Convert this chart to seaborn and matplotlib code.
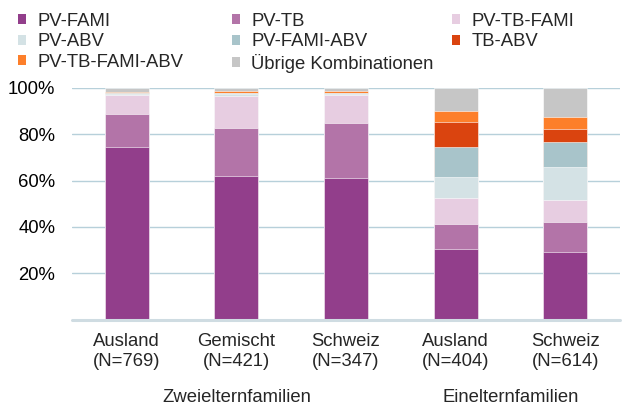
import pandas as pd
import matplotlib.pyplot as plt
import matplotlib.transforms as mtransforms
from matplotlib.patches import Patch
import seaborn as sns

# ---------- Daten (Anteile in %) ----------
kategorien = ["Ausland\n(N=769)", "Gemischt\n(N=421)", "Schweiz\n(N=347)",
              "Ausland\n(N=404)", "Schweiz\n(N=614)"]
gruppen = ["Zweielternfamilien", "Einelternfamilien"]
gruppen_mitte = [1.0, 3.5]

pv_fami        = [74.5, 62.0, 61.3, 30.4, 29.3]
pv_tb          = [14.1, 20.8, 23.4, 11.0, 12.7]
pv_tb_fami     = [8.5, 13.6, 12.1, 11.1, 9.8]
pv_abv         = [0.5, 1.0, 0.6, 9.2, 14.1]
pv_fami_abv    = [0.3, 0.4, 0.4, 13.0, 10.7]
tb_abv         = [0.1, 0.2, 0.2, 10.8, 5.9]
pv_tb_fami_abv = [0.3, 0.9, 0.9, 4.4, 4.8]
uebrige        = [1.7, 1.1, 1.1, 10.1, 12.7]

serien = ["PV-FAMI", "PV-TB", "PV-TB-FAMI", "PV-ABV", "PV-FAMI-ABV",
          "TB-ABV", "PV-TB-FAMI-ABV", "Übrige Kombinationen"]
werte = [pv_fami, pv_tb, pv_tb_fami, pv_abv, pv_fami_abv,
         tb_abv, pv_tb_fami_abv, uebrige]
farben = ["#923e8b", "#b374a8", "#e7cde1", "#d4e2e5", "#a8c4ca",
          "#da440f", "#fd7f2a", "#c6c6c6"]

df = pd.DataFrame({s: w for s, w in zip(serien, werte)}, index=kategorien) / 100
kumuliert = df.cumsum(axis=1)

# ---------- Grafik ----------
sns.set_theme(style="white")
plt.rcParams['font.family'] = ['Liberation Sans', 'DejaVu Sans']
fs = 13.3

fig = plt.figure(figsize=(6.25, 4.05), dpi=100)
ax = fig.add_axes([72 / 625, 1 - 319.5 / 405, 548 / 625, 231.5 / 405])

# gestapelte Balken: kumulierte Summen von oben nach unten zeichnen
for s, f in reversed(list(zip(serien, farben))):
    sns.barplot(x=kategorien, y=kumuliert[s].values, color=f, width=0.4,
                saturation=1, edgecolor="white", linewidth=0.4, ax=ax, zorder=3)

ax.set_ylim(0, 1)
ax.set_xlim(-0.5, len(kategorien) - 0.5)
ax.set_yticks([0.2, 0.4, 0.6, 0.8, 1.0])
ax.set_yticklabels(["20%", "40%", "60%", "80%", "100%"], fontsize=fs, color="#000000")
ax.tick_params(axis="y", length=0, pad=12)
ax.tick_params(axis="x", length=0, pad=10, labelsize=fs)
for y in [0.2, 0.4, 0.6, 0.8, 1.0]:
    ax.axhline(y, color="#b7d0da", lw=1, zorder=1)
ax.axhline(0, color="#cfdce2", lw=2.2, zorder=4, clip_on=False)
for sp in ax.spines.values():
    sp.set_visible(False)
ax.set_xlabel("")
ax.set_ylabel("")

# Gruppenbeschriftung
trans = mtransforms.blended_transform_factory(ax.transData, fig.transFigure)
for g, xm in zip(gruppen, gruppen_mitte):
    ax.text(xm, 1 - 398 / 405, g, transform=trans, ha="center", va="center", fontsize=fs)

# Legende in drei Spalten
spalten_x = [5 / 625, 219 / 625, 439 / 625]
handles = [Patch(facecolor=f, edgecolor="none", label=s) for s, f in zip(serien, farben)]
for i, x0 in enumerate(spalten_x):
    h = handles[i::3]
    fig.legend(handles=h, loc="upper left", bbox_to_anchor=(x0, 1.0), frameon=False,
               fontsize=fs, handlelength=0.45, handleheight=0.45, handletextpad=0.6,
               labelspacing=0.18, borderpad=0.2)

fig.savefig("out.png", dpi=100)
